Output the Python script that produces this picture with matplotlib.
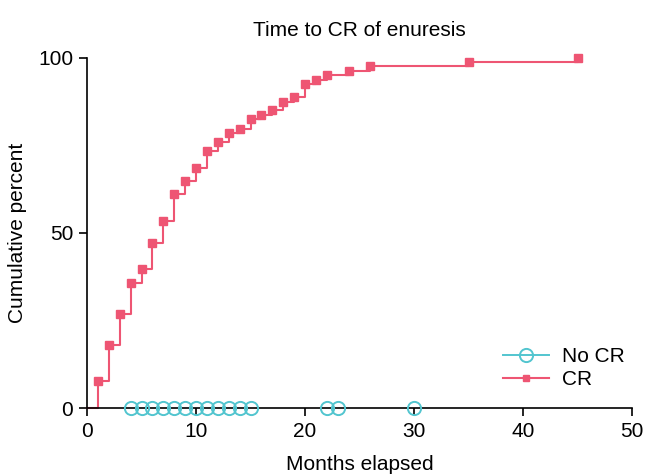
import matplotlib
matplotlib.use('Agg')
import matplotlib.pyplot as plt
from matplotlib.lines import Line2D

plt.rcParams['font.family'] = ['Liberation Sans', 'DejaVu Sans']

# months and cumulative percent of CR
cr_months = [0, 1, 2, 3, 4, 5, 6, 7, 8, 9, 10, 11, 12, 13, 14, 15, 16, 17, 18, 19, 20, 21, 22, 24, 26, 35, 45]
cr_percent = [0, 7.8, 18.0, 26.9, 35.6, 39.6, 47.0, 53.4, 61.1, 64.8, 68.6, 73.5, 75.9, 78.6, 79.8, 82.5, 83.6,
              85.0, 87.3, 88.8, 92.6, 93.7, 95.0, 96.4, 97.6, 98.9, 100.0]
# censored (no CR)
nocr_months = [4, 5, 6, 7, 8, 9, 10, 11, 12, 13, 14, 15, 22, 23, 30]
nocr_percent = [0] * len(nocr_months)

red = '#EE5573'
cyan = '#52C5CF'
fs = 15

fig = plt.figure(figsize=(6.45, 4.75), dpi=100)
ax = fig.add_axes([0.135, 0.141, 0.845, 0.737])

ax.step(cr_months, cr_percent, where='post', color=red, lw=1.5, clip_on=False, zorder=2)
ax.plot(cr_months[1:], cr_percent[1:], ls='none', marker='s', ms=6, color=red, clip_on=False, zorder=3)
ax.plot(nocr_months, nocr_percent, ls='none', marker='o', ms=9.5, mfc='none', mec=cyan, mew=1.4,
        clip_on=False, zorder=4)

ax.set_xlim(0, 50)
ax.set_ylim(0, 100)
ax.set_xticks([0, 10, 20, 30, 40, 50])
ax.set_yticks([0, 50, 100])
ax.spines['top'].set_visible(False)
ax.spines['right'].set_visible(False)
ax.tick_params(labelsize=fs, width=1.2, length=6, direction='out', pad=4)
for s in ['left', 'bottom']:
    ax.spines[s].set_linewidth(1.2)

ax.set_title('Time to CR of enuresis', fontsize=fs, pad=16)
ax.set_xlabel('Months elapsed', fontsize=fs, labelpad=10)
ax.set_ylabel('Cumulative percent', fontsize=fs, labelpad=8)

handles = [Line2D([], [], color=cyan, lw=1.4, marker='o', ms=9.5, mfc='none', mec=cyan, mew=1.4),
           Line2D([], [], color=red, lw=1.5, marker='s', ms=5)]
ax.legend(handles, ['No CR', 'CR'], loc='lower right', bbox_to_anchor=(1.02, 0.0), frameon=False,
          fontsize=fs, handlelength=2.2, handletextpad=0.6, labelspacing=0.2)

fig.savefig('out.png', dpi=100)
